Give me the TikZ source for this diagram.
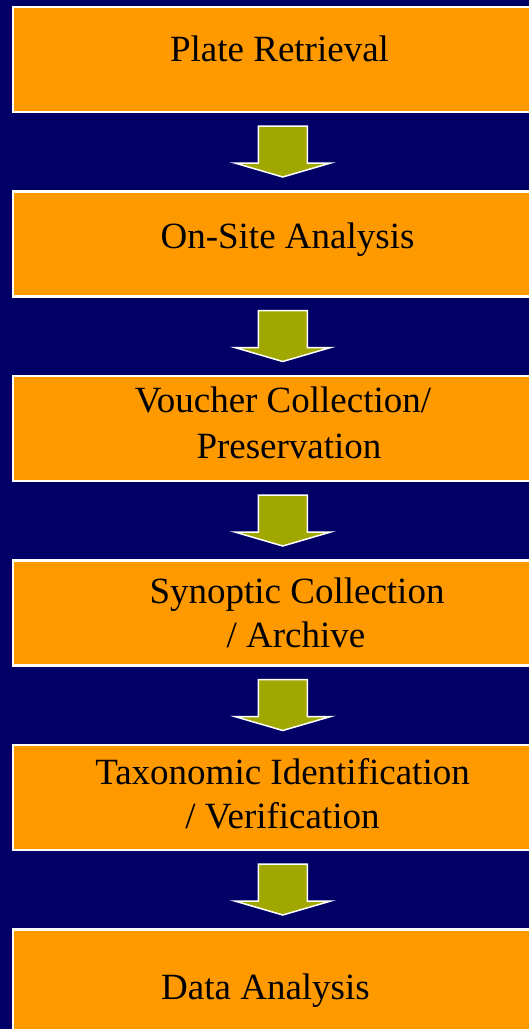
\documentclass[tikz,border=0pt]{standalone}
\usepackage{fontspec}
\setmainfont{Liberation Serif}
\usetikzlibrary{calc}
\definecolor{navybg}{RGB}{0,0,102}
\definecolor{boxorange}{RGB}{255,153,0}
\definecolor{arrowolive}{RGB}{160,168,0}
\begin{document}
\begin{tikzpicture}[x=1pt,y=-1pt,
  stepbox/.style={draw=white, line width=2.5pt, fill=boxorange, minimum width=540pt, minimum height=105pt, inner sep=0pt, anchor=north west},
  steptext/.style={anchor=base, inner sep=0pt, font=\fontsize{37}{44}\selectfont, text=black},
  flowarrow/.style={fill=arrowolive, draw=white, line width=1.5pt, line join=miter}]
\clip (0,0) rectangle (529,1029);
\fill[navybg] (0,0) rectangle (529,1029);
\node[stepbox] (b1) at (11.5,5.5) {};
\node[stepbox] (b2) at (11.5,190) {};
\node[stepbox] (b3) at (11.5,374.5) {};
\node[stepbox] (b4) at (11.5,559) {};
\node[stepbox] (b5) at (11.5,743.5) {};
\node[stepbox] (b6) at (11.5,928) {};
\node[steptext] (t1) at (279.5,61) {Plate Retrieval};
\node[steptext] (t2) at (287.5,248) {On-Site Analysis};
\node[steptext] (t3a) at (283,412) {Voucher Collection/};
\node[steptext] (t3b) at (289,458) {Preservation};
\node[steptext] (t4a) at (297,603) {Synoptic Collection};
\node[steptext] (t4b) at (296,647) {/ Archive};
\node[steptext] (t5a) at (282.5,784) {Taxonomic Identification};
\node[steptext] (t5b) at (282.5,828) {/ Verification};
\node[steptext] (t6) at (265.5,999) {Data Analysis};
\foreach \a/\b in {b1/b2,b2/b3,b3/b4,b4/b5,b5/b6}{
  \draw[flowarrow] let \p1=(\a.south), \p2=(\b.north) in
    (\x1-24.5pt,\y1-13pt) -- (\x1+24.5pt,\y1-13pt) -- (\x1+24.5pt,\y2+27pt)
    -- (\x1+48pt,\y2+27pt) -- (\x2,\y2+13pt) -- (\x1-48pt,\y2+27pt)
    -- (\x1-24.5pt,\y2+27pt) -- cycle;
}
\end{tikzpicture}
\end{document}
